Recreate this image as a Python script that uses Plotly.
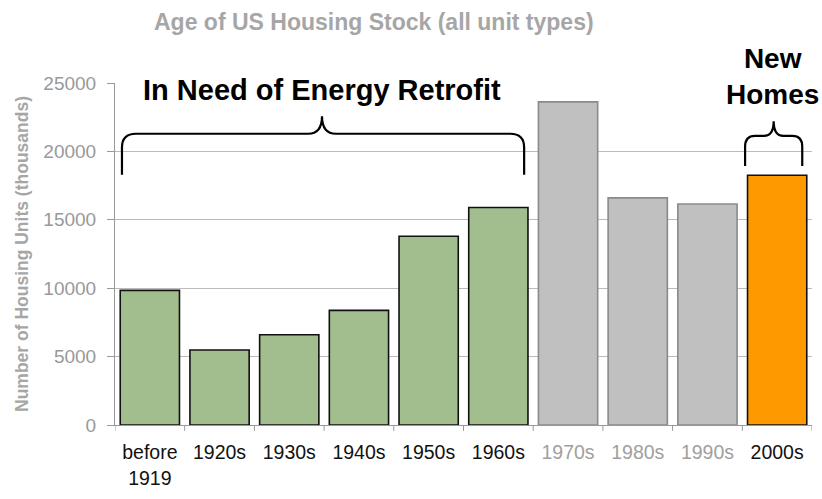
import plotly.graph_objects as go

categories = ["before<br>1919", "1920s", "1930s", "1940s", "1950s", "1960s", "1970s", "1980s", "1990s", "2000s"]
values = [9840, 5480, 6600, 8380, 13800, 15900, 23620, 16600, 16160, 18260]
groups = ["old", "old", "old", "old", "old", "old", "mid", "mid", "mid", "new"]

fill = {"old": "#A2BE8E", "mid": "#C0C0C0", "new": "#FF9900"}
edge = {"old": "#111111", "mid": "#8A8A8A", "new": "#111111"}
label_color = {"old": "#111111", "mid": "#A0A0A0", "new": "#111111"}

ticktext = [f'<span style="color:{label_color[g]}">{c}</span>' for c, g in zip(categories, groups)]

W, H = 822, 499
L, R, T, B = 115, 10, 83, 66
PW, PH = W - L - R, H - T - B


def px(xp):
    return (xp - L) / PW


def py(yp):
    return (H - B - yp) / PH


fig = go.Figure()
fig.add_trace(go.Bar(
    x=list(range(len(categories))), y=values,
    marker=dict(color=[fill[g] for g in groups],
                line=dict(color=[edge[g] for g in groups], width=1.6)),
    width=0.85,
))


def brace(x0, x1, xc, yb, yh, yc, rx, ry, rxc):
    return (f"M {x0},{yb} L {x0},{yh - ry} Q {x0},{yh} {x0 + rx},{yh} "
            f"L {xc - rxc},{yh} Q {xc},{yh} {xc},{yc} "
            f"Q {xc},{yh} {xc + rxc},{yh} L {x1 - rx},{yh} "
            f"Q {x1},{yh} {x1},{yh - ry} L {x1},{yb}")


fig.add_shape(type="path", xref="x", yref="y",
              path=brace(-0.4, 5.37, 2.47, 18290, 21290, 22570, 0.2, 1000, 0.2),
              line=dict(color="#000000", width=2.2))
fig.add_shape(type="path", xref="x", yref="y",
              path=brace(8.54, 9.36, 8.95, 18930, 21140, 22210, 0.14, 800, 0.14),
              line=dict(color="#000000", width=2.2))

fig.add_annotation(x=px(322), y=py(90), xref="paper", yref="paper", text="<b>In Need of Energy Retrofit</b>",
                   showarrow=False, font=dict(size=29, color="#000000"), xanchor="center", yanchor="middle")
fig.add_annotation(x=px(772), y=py(76), xref="paper", yref="paper", text="<b>New<br>Homes</b>",
                   showarrow=False, font=dict(size=28, color="#000000"), xanchor="center", yanchor="middle")

fig.add_annotation(x=px(374), y=py(21), xref="paper", yref="paper",
                   text="<b>Age of US Housing Stock (all unit types)</b>", showarrow=False,
                   font=dict(size=23, color="#A6A6A6"), xanchor="center", yanchor="middle")

fig.update_layout(
    width=W, height=H,
    margin=dict(l=L, r=R, t=T, b=B),
    paper_bgcolor="white", plot_bgcolor="white",
    font=dict(family="Liberation Sans, Arial, sans-serif"),
    showlegend=False,
    xaxis=dict(
        tickmode="array", tickvals=list(range(len(categories))), ticktext=ticktext,
        range=[-0.5, 9.5], showgrid=False, showline=True, linecolor="#999999", linewidth=1,
        ticks="", tickfont=dict(size=19.5, color="#111111"), zeroline=False, ticklabelstandoff=10,
    ),
    yaxis=dict(
        range=[0, 25000], tickvals=[0, 5000, 10000, 15000, 20000, 25000], tickformat="d",
        showgrid=True, gridcolor="#BBBBBB", gridwidth=1,
        showline=True, linecolor="#999999", linewidth=1,
        ticks="outside", ticklen=7, tickcolor="#999999", ticklabelstandoff=7,
        tickfont=dict(size=19, color="#999999"), zeroline=False,
        title=dict(text="<b>Number of Housing Units (thousands)</b>", font=dict(size=17.5, color="#A6A6A6"), standoff=10),
    ),
)

# category boundary tick marks on the x axis
for i in range(len(categories) + 1):
    fig.add_shape(type="line", xref="x", yref="paper", x0=i - 0.5, x1=i - 0.5, y0=0, y1=-6 / PH,
                  line=dict(color="#999999", width=1))

fig.write_html("out.html", config={"displayModeBar": False},
               post_script="document.body.style.margin='0';document.body.style.overflow='hidden';")
